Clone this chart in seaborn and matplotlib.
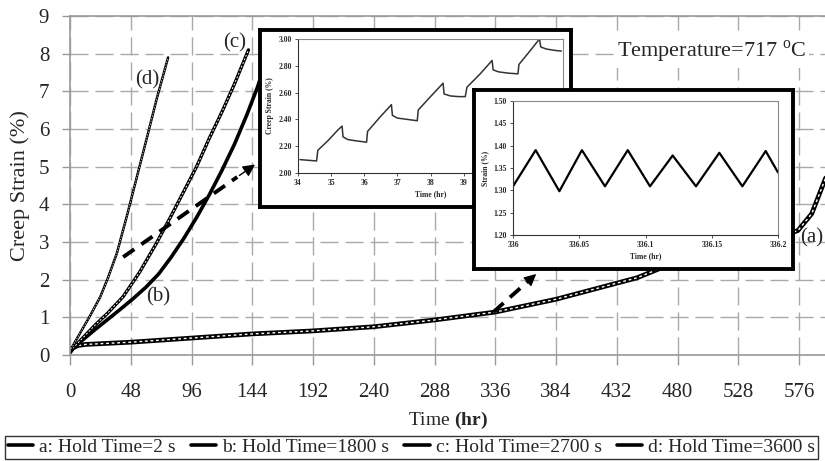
import numpy as np
import pandas as pd
import seaborn as sns
import matplotlib.pyplot as plt
from matplotlib.lines import Line2D

# Main chart: creep strain (%) vs time (hr)
time_a = [0, 2, 6, 12, 24, 48, 96, 144, 192, 240, 288, 336, 384, 420, 448, 470, 500, 530, 560, 575, 586, 597]
strain_a = [0.08, 0.18, 0.25, 0.28, 0.30, 0.34, 0.45, 0.56, 0.64, 0.75, 0.93, 1.14, 1.48, 1.80, 2.05, 2.35, 2.70, 2.95, 3.15, 3.30, 3.75, 4.70]

time_b = [0, 10, 20, 30, 40, 50, 60, 70, 80, 90, 100, 110, 120, 130, 140, 148, 155]
strain_b = [0.1, 0.40, 0.68, 0.95, 1.22, 1.50, 1.80, 2.15, 2.60, 3.10, 3.65, 4.25, 4.90, 5.60, 6.40, 7.10, 7.80]

time_c = [0, 10, 20, 30, 42, 55, 68, 80, 90, 100, 110, 120, 130, 141]
strain_c = [0.1, 0.45, 0.80, 1.12, 1.55, 2.20, 2.95, 3.70, 4.35, 5.00, 5.75, 6.45, 7.20, 8.10]

time_d = [0, 4, 10, 16, 24, 30, 37, 45, 53, 61, 68.5, 73, 77.5]
strain_d = [0.1, 0.35, 0.70, 1.05, 1.55, 2.05, 2.70, 3.70, 4.75, 5.80, 6.80, 7.35, 7.90]

x_ticks = [0, 48, 96, 144, 192, 240, 288, 336, 384, 432, 480, 528, 576]
y_ticks = [0, 1, 2, 3, 4, 5, 6, 7, 8, 9]
legend_labels = ["a: Hold Time=2 s", "b: Hold Time=1800 s", "c: Hold Time=2700 s", "d: Hold Time=3600 s"]

# curve tags: (label, time, strain)
tag_text = ["(a)", "(b)", "(c)", "(d)"]
tag_time = [586, 70, 130, 61]
tag_strain = [3.1, 1.55, 8.3, 7.3]

# dashed pointer arrows (tail -> head) in main-axis data units
arrow_tail = [(42, 2.6), (334.5, 1.14)]
arrow_head = [(148, 5.1), (370, 2.2)]

# Inset 1: strain during hold periods (b)
inset1_time = [34.06, 34.30, 34.56, 34.60, 34.9, 35.2, 35.33, 35.36, 35.5, 35.75, 36.07,
               36.10, 36.45, 36.82, 36.85, 37.0, 37.3, 37.60, 37.63, 38.0, 38.38, 38.41,
               38.6, 38.85, 39.05, 39.10, 39.5, 39.86, 39.89, 40.05, 40.35, 40.64, 40.67,
               41.0, 41.29, 41.33, 41.5, 41.75, 41.95]
inset1_strain = [2.10, 2.095, 2.09, 2.17, 2.24, 2.32, 2.35, 2.27, 2.25, 2.24, 2.23,
                 2.31, 2.41, 2.51, 2.43, 2.41, 2.40, 2.39, 2.47, 2.57, 2.67, 2.59,
                 2.575, 2.57, 2.57, 2.64, 2.74, 2.84, 2.77, 2.755, 2.745, 2.74, 2.81,
                 2.91, 3.00, 2.94, 2.925, 2.915, 2.91]
inset1_yticks = [2.0, 2.2, 2.4, 2.6, 2.8, 3.0]
inset1_xticks = [34, 35, 36, 37, 38, 39, 40, 41, 42]

# Inset 2: strain cycling (a)
inset2_time = [336.0, 336.0171, 336.035, 336.052, 336.0694, 336.0866, 336.1034,
               336.1205, 336.1381, 336.1557, 336.1731, 336.1907, 336.2]
inset2_strain = [1.309, 1.390, 1.298, 1.390, 1.309, 1.390, 1.309,
                 1.378, 1.309, 1.384, 1.309, 1.388, 1.34]
inset2_yticks = [1.20, 1.25, 1.30, 1.35, 1.40, 1.45, 1.50]
inset2_xticks = [336, 336.05, 336.1, 336.15, 336.2]
inset2_xlabels = ["336", "336.05", "336.1", "336.15", "336.2"]

sns.set_theme(style="white")
plt.rcParams['font.family'] = ['Liberation Serif', 'DejaVu Serif']
plt.rcParams['mathtext.fontset'] = 'custom'
plt.rcParams['mathtext.rm'] = 'Liberation Serif'
plt.rcParams['mathtext.bf'] = 'Liberation Serif:bold'

W, H = 825, 461
fig = plt.figure(figsize=(W / 100, H / 100), dpi=100)
fig.patch.set_facecolor('white')

def px_axes(x0, y0, x1, y1):
    # pixel box (top-left origin) -> figure fraction
    return [x0 / W, 1 - y1 / H, (x1 - x0) / W, (y1 - y0) / H]

ax = fig.add_axes(px_axes(70, 16, 825, 355))
grid_c = '#a9a9a9'
ax.grid(True, color=grid_c, lw=1.0, ls=(0, (13, 5)))
ax.set_axisbelow(True)

curves = pd.concat([
    pd.DataFrame({'time': time_a, 'strain': strain_a, 'curve': 'a'}),
    pd.DataFrame({'time': time_b, 'strain': strain_b, 'curve': 'b'}),
    pd.DataFrame({'time': time_c, 'strain': strain_c, 'curve': 'c'}),
    pd.DataFrame({'time': time_d, 'strain': strain_d, 'curve': 'd'}),
])
outer_lw = {'a': 3.4, 'b': 2.6, 'c': 2.4, 'd': 1.8}
inner_lw = {'a': 1.0, 'b': 0, 'c': 0.7, 'd': 0.5}
for key, grp in curves.groupby('curve'):
    sns.lineplot(data=grp, x='time', y='strain', ax=ax, color='black',
                 lw=outer_lw[key], sort=False, estimator=None, legend=False)
    if inner_lw[key] > 0:
        sns.lineplot(data=grp, x='time', y='strain', ax=ax, color='white',
                     lw=inner_lw[key], ls=(0, (2, 2)), sort=False, estimator=None, legend=False)

for (x0, y0), (x1, y1) in zip(arrow_tail, arrow_head):
    fx, fy = x0 + 0.85 * (x1 - x0), y0 + 0.85 * (y1 - y0)
    ax.plot([x0, fx], [y0, fy], color='black', lw=2.8, ls=(0, (3.5, 2.2)))
    ax.annotate('', xy=(x1, y1), xytext=(fx, fy),
                arrowprops=dict(arrowstyle='-|>', color='black', lw=1, mutation_scale=18))

for t, x, y in zip(tag_text, tag_time, tag_strain):
    ax.text(x, y, t, fontsize=15, ha='center', va='center')

ax.text(507, 8.05, r"Temperature=717 $^{\rm o}$C", fontsize=16, ha='center', va='center',
        bbox=dict(facecolor='white', edgecolor='none', pad=2))

ax.set_xlim(0, 596.5)
ax.set_ylim(0, 9)
ax.set_xticks(x_ticks)
ax.set_yticks(y_ticks)
ax.tick_params(axis='x', bottom=True, direction='out', length=7, width=1, color='#999999',
               pad=13, labelsize=15)
ax.tick_params(axis='y', left=True, direction='out', length=6, width=1, color='#999999',
               pad=9, labelsize=15)
for side in ['left', 'bottom', 'top']:
    ax.spines[side].set_color('#999999')
    ax.spines[side].set_linewidth(1.2)
ax.spines['right'].set_visible(False)
ax.set_xlabel(r"Time $\mathbf{(hr)}$", fontsize=14, labelpad=6)
ax.set_ylabel("Creep Strain (%)", fontsize=16, labelpad=6)

def framed_box(rect):
    b = fig.add_axes(rect)
    b.set_facecolor('white')
    b.set_xticks([])
    b.set_yticks([])
    for s in b.spines.values():
        s.set_color('black')
        s.set_linewidth(2.8)
    return b

def style_inner(a):
    a.set_facecolor('white')
    a.grid(False)
    for s in ['left', 'bottom']:
        a.spines[s].set_color('#333333')
        a.spines[s].set_linewidth(0.8)
    for s in ['top', 'right']:
        a.spines[s].set_color('#888888')
        a.spines[s].set_linewidth(0.8)
    a.tick_params(axis='both', bottom=True, left=True, direction='out', length=2.5,
                  width=0.6, pad=2, labelsize=5.5, color='#333333')
    for lab in a.get_xticklabels() + a.get_yticklabels():
        lab.set_fontweight('bold')

# Inset 1
framed_box(px_axes(260, 30, 571, 207))
in1 = fig.add_axes(px_axes(298, 39, 563, 173))
sns.lineplot(x=inset1_time, y=inset1_strain, ax=in1, color='#333333', lw=1.1,
             sort=False, estimator=None)
in1.set_xlim(34, 42)
in1.set_ylim(2.0, 3.0)
in1.set_xticks(inset1_xticks)
in1.set_yticks(inset1_yticks)
in1.set_yticklabels([f"{v:.2f}" for v in inset1_yticks])
in1.set_xlabel("Time (hr)", fontsize=5.5, fontweight='bold', labelpad=2)
in1.set_ylabel("Creep Strain (%)", fontsize=5.5, fontweight='bold', labelpad=3)
style_inner(in1)

# Inset 2
framed_box(px_axes(474, 90, 793, 269))
in2 = fig.add_axes(px_axes(513, 101, 778, 235))
sns.lineplot(x=inset2_time, y=inset2_strain, ax=in2, color='black', lw=1.6,
             sort=False, estimator=None)
in2.set_xlim(336, 336.2)
in2.set_ylim(1.2, 1.5)
in2.set_xticks(inset2_xticks)
in2.set_xticklabels(inset2_xlabels)
in2.set_yticks(inset2_yticks)
in2.set_yticklabels([f"{v:.2f}" for v in inset2_yticks])
in2.set_xlabel("Time (hr)", fontsize=5.5, fontweight='bold', labelpad=2)
in2.set_ylabel("Strain (%)", fontsize=5.5, fontweight='bold', labelpad=3)
style_inner(in2)

handles = [Line2D([], [], color='black', lw=2.6) for _ in legend_labels]
leg = fig.legend(handles, legend_labels, loc='lower left', ncol=4, mode='expand',
                 bbox_to_anchor=(5 / W, 2 / H, 813 / W, 26 / H), fontsize=14,
                 frameon=True, fancybox=False, edgecolor='#333333', framealpha=1,
                 borderpad=0.15, handlelength=1.3, handletextpad=0.3, borderaxespad=0)
leg.get_frame().set_linewidth(1.0)

fig.savefig('out.png', dpi=100)
